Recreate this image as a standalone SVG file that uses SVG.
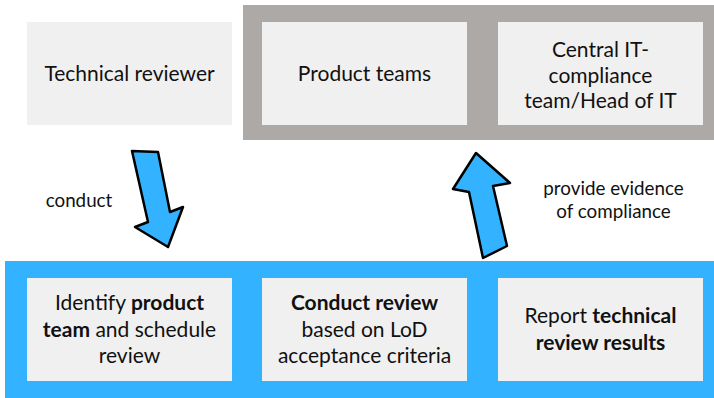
<svg xmlns="http://www.w3.org/2000/svg" width="714" height="398" viewBox="0 0 714 398">
<style>
.box{fill:#F0F0F0}
.t{font-family:Lato,"Open Sans","Liberation Sans",sans-serif;font-size:21px;fill:#111;text-anchor:middle}
.l{font-family:Lato,"Open Sans","Liberation Sans",sans-serif;font-size:18.8px;fill:#111;text-anchor:middle}
.b{font-weight:bold}
.arrow{fill:#33B3FF;stroke:#000;stroke-width:2.5;stroke-linejoin:round}
</style>
<rect width="714" height="398" fill="#fff"/>
<g id="frame-top"><rect x="243" y="5" width="471" height="135" fill="#ADA9A7"/></g>
<g id="band-bottom"><rect x="5" y="261" width="709" height="137" fill="#33B3FF"/></g>
<g id="technical-reviewer"><rect class="box" x="27" y="22" width="205" height="103"/><text class="t" x="129.5" y="81">Technical reviewer</text></g>
<g id="product-teams"><rect class="box" x="262" y="22" width="205" height="103"/><text class="t" x="364.5" y="81">Product teams</text></g>
<g id="central-it"><rect class="box" x="498" y="22" width="205" height="103"/><text class="t" x="600.5" y="57">Central IT-</text><text class="t" x="600.5" y="83">compliance</text><text class="t" x="600.5" y="108">team/Head of IT</text></g>
<g id="identify"><rect class="box" x="27" y="278" width="205" height="103"/><text class="t" x="129.5" y="310">Identify <tspan class="b">product</tspan></text><text class="t" x="129.5" y="337"><tspan class="b">team</tspan> and schedule</text><text class="t" x="129.5" y="363">review</text></g>
<g id="conduct-review"><rect class="box" x="262" y="278" width="205" height="103"/><text class="t b" x="364.5" y="310">Conduct review</text><text class="t" x="364.5" y="337">based on LoD</text><text class="t" x="364.5" y="363">acceptance criteria</text></g>
<g id="report"><rect class="box" x="498" y="278" width="205" height="103"/><text class="t" x="600.5" y="323">Report <tspan class="b">technical</tspan></text><text class="t b" x="600.5" y="350">review results</text></g>
<g id="connectors">
<path class="arrow" d="M132,151 L158,152 L170,212 L183,207 L168,247 L135,227 L148,222 Z"/>
<text class="l" x="79" y="207">conduct</text>
<path class="arrow" d="M476,153 L510,183 L493,186 L507,246 L483,258 L469,192 L453,189 Z"/>
<text class="l" x="613.5" y="195">provide evidence</text>
<text class="l" x="613.5" y="218">of compliance</text>
</g>
</svg>
